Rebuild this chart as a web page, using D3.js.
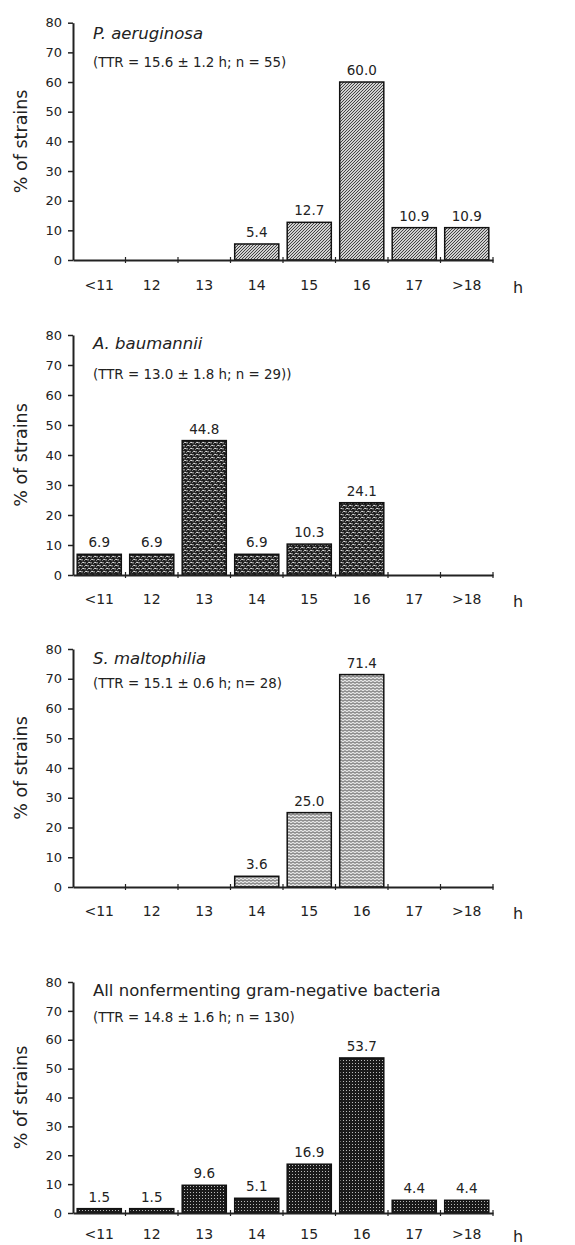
<!DOCTYPE html>
<html><head><meta charset="utf-8">
<script src="https://cdn.jsdelivr.net/npm/d3@7"></script>
<style>body{margin:0;background:#fff}svg{display:block}text{font-family:"DejaVu Sans",sans-serif;fill:#222}</style>
</head><body><svg id="c" width="575" height="1245"></svg>
<script>
const categories = ["<11","12","13","14","15","16","17",">18"];
const yTicks = [0,10,20,30,40,50,60,70,80];
const titles = ["P. aeruginosa","A. baumannii","S. maltophilia","All nonfermenting gram-negative bacteria"];
const subtitles = ["(TTR = 15.6 \u00b1 1.2 h; n = 55)","(TTR = 13.0 \u00b1 1.8 h; n = 29))","(TTR = 15.1 \u00b1 0.6 h; n= 28)","(TTR = 14.8 \u00b1 1.6 h; n = 130)"];
const paeruginosa = [0,0,0,5.4,12.7,60.0,10.9,10.9];
const abaumannii = [6.9,6.9,44.8,6.9,10.3,24.1,0,0];
const smaltophilia = [0,0,0,3.6,25.0,71.4,0,0];
const allBacteria = [1.5,1.5,9.6,5.1,16.9,53.7,4.4,4.4];
const series = [paeruginosa, abaumannii, smaltophilia, allBacteria];

// layout (pixel positions, separate from data)
const layout = [
  {top:22.7, zero:260, titleDy:10, subDy:39, italic:true, pad:20},
  {top:335, zero:575, titleDy:8, subDy:39, italic:true, pad:19},
  {top:649, zero:887, titleDy:9, subDy:34, italic:true, pad:19},
  {top:982, zero:1213, titleDy:8, subDy:35, italic:false, pad:16}
];
const patterns = ["hatch","weave","wave","dots"];

const svg = d3.select("#c");
const defs = svg.append("defs");
// hatch
let p = defs.append("pattern").attr("id","hatch").attr("width",3).attr("height",3).attr("patternUnits","userSpaceOnUse");
p.append("rect").attr("width",3).attr("height",3).attr("fill","#d0d0d0");
p.append("path").attr("d","M-1,1 L1,-1 M0,3 L3,0 M2,4 L4,2").attr("stroke","#333").attr("stroke-width",0.9);
// weave
p = defs.append("pattern").attr("id","weave").attr("width",6).attr("height",6).attr("patternUnits","userSpaceOnUse");
p.append("rect").attr("width",6).attr("height",6).attr("fill","#1e1e1e");
p.append("path").attr("d","M0.5,2.5 Q1.5,0.5 3,1.5 M3.5,5.5 Q4.5,3.5 6,4.5 M1,4 L1,5.5 M4,1 L4,2.5").attr("stroke","#eee").attr("stroke-width",1).attr("fill","none");
// wave
p = defs.append("pattern").attr("id","wave").attr("width",4).attr("height",3).attr("patternUnits","userSpaceOnUse");
p.append("rect").attr("width",4).attr("height",3).attr("fill","#e4e4e4");
p.append("path").attr("d","M0,1.5 L1,0.7 L2,1.5 L3,2.3 L4,1.5").attr("stroke","#444").attr("stroke-width",0.9).attr("fill","none");
// dots
p = defs.append("pattern").attr("id","dots").attr("width",3).attr("height",3).attr("patternUnits","userSpaceOnUse");
p.append("rect").attr("width",3).attr("height",3).attr("fill","#1a1a1a");
p.append("rect").attr("x",1).attr("y",1).attr("width",1).attr("height",1).attr("fill","#bbb");

const x = d3.scaleBand().domain(categories).range([73,493]).paddingInner(0.16).paddingOuter(0.08);

series.forEach((vals, i) => {
  const L = layout[i];
  const y = d3.scaleLinear().domain([0,80]).range([L.zero, L.top]);
  const g = svg.append("g");
  const data = categories.map((c,j)=>({c, v: vals[j]}));

  // bars
  g.selectAll("rect.bar").data(data.filter(d=>d.v>0)).join("rect").attr("class","bar")
    .attr("x", d=>x(d.c)).attr("width", x.bandwidth())
    .attr("y", d=>y(d.v)).attr("height", d=>y(0)-y(d.v))
    .attr("fill", `url(#${patterns[i]})`).attr("stroke","#111").attr("stroke-width",1.5);

  // value labels
  g.selectAll("text.val").data(data.filter(d=>d.v>0)).join("text").attr("class","val")
    .attr("x", d=>x(d.c)+x.bandwidth()/2).attr("y", d=>y(d.v)-7)
    .attr("text-anchor","middle").attr("font-size",13.5).text(d=>d.v.toFixed(1));

  // y axis
  const ya = g.append("g").attr("transform","translate(73,0)")
    .call(d3.axisLeft(y).tickValues(yTicks).tickSize(5).tickPadding(6).tickSizeOuter(0));
  ya.select(".domain").attr("stroke","#222").attr("stroke-width",2);
  ya.selectAll(".tick line").attr("stroke","#222").attr("stroke-width",1.5);
  ya.selectAll(".tick text").attr("font-size",13).attr("fill","#222").attr("font-family","DejaVu Sans");

  // x axis
  const xa = g.append("g").attr("transform",`translate(0,${L.zero})`)
    .call(d3.axisBottom(x).tickSize(0).tickPadding(L.pad).tickSizeOuter(0));
  xa.select(".domain").attr("stroke","#222").attr("stroke-width",2);
  xa.selectAll(".tick text").attr("font-size",14).attr("fill","#222").attr("font-family","DejaVu Sans");
  // boundary ticks
  const bounds = categories.slice(1).map(c => x(c) - x.step()*x.paddingInner()/2).concat([493]);
  g.selectAll("line.bt").data(bounds).join("line").attr("class","bt")
    .attr("x1",d=>d).attr("x2",d=>d).attr("y1",L.zero-3).attr("y2",L.zero+3)
    .attr("stroke","#222").attr("stroke-width",1.2);

  // h label
  g.append("text").attr("x",518).attr("y",L.zero+L.pad+13).attr("text-anchor","middle").attr("font-size",16).text("h");

  // y label
  g.append("text").attr("transform",`translate(27,${(L.top+L.zero)/2}) rotate(-90)`)
    .attr("text-anchor","middle").attr("font-size",17.5).text("% of strains");

  // titles
  g.append("text").attr("x",93).attr("y",L.top+L.titleDy+6).attr("font-size",16.5)
    .attr("font-style", L.italic ? "italic" : "normal").text(titles[i]);
  g.append("text").attr("x",93).attr("y",L.top+L.subDy+5).attr("font-size",13.4).text(subtitles[i]);
});
</script></body></html>
